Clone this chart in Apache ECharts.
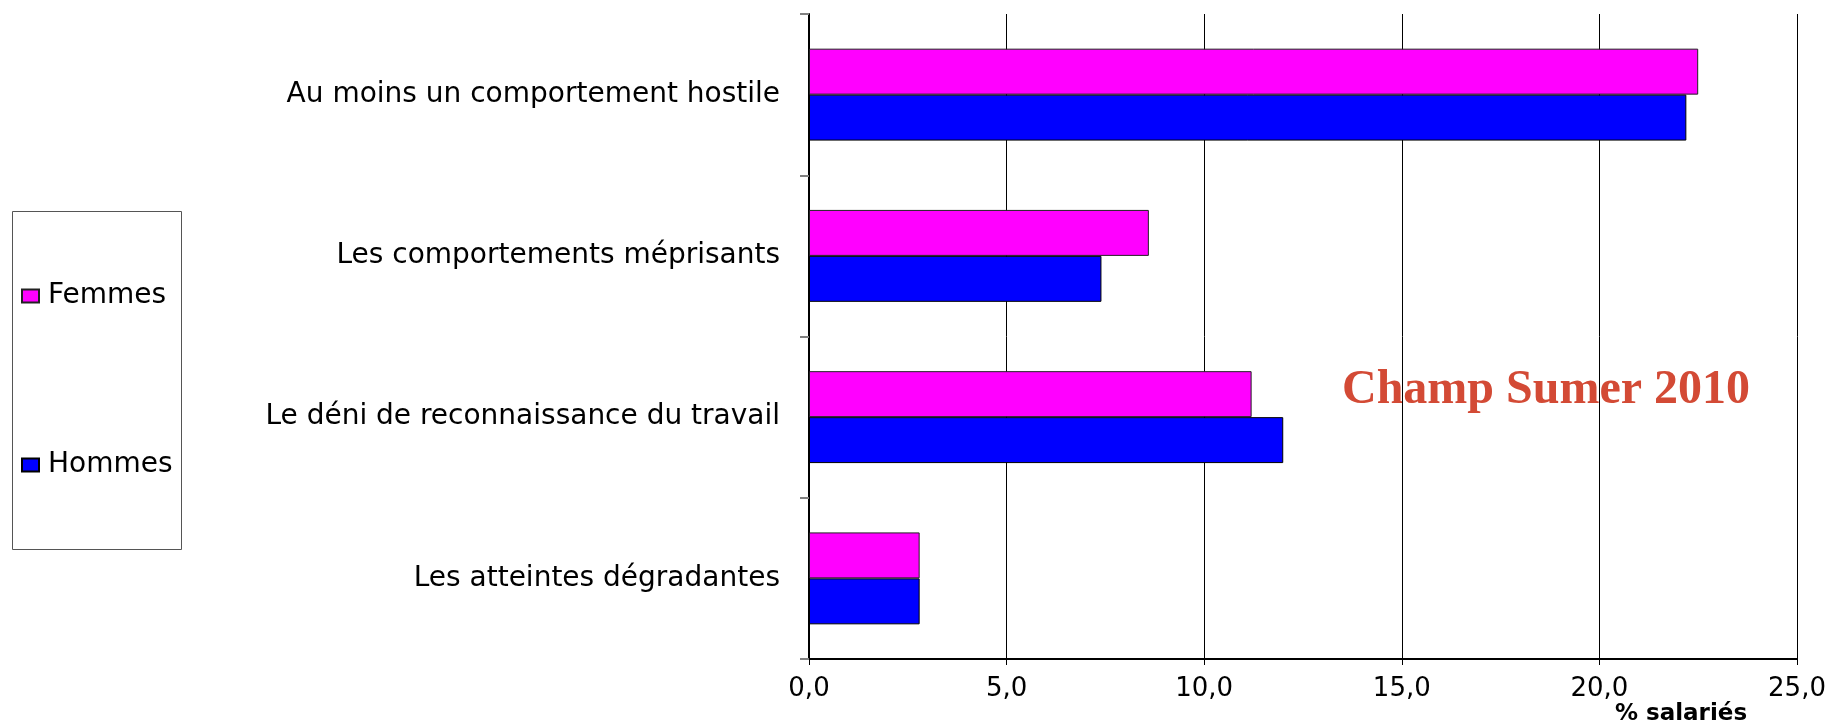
<!DOCTYPE html>
<html>
<head>
<meta charset="utf-8">
<script src="https://cdn.jsdelivr.net/npm/echarts@6/dist/echarts.min.js"></script>
<style>
  html, body { margin: 0; padding: 0; background: #fff; }
  #chart { width: 1832px; height: 722px; }
</style>
</head>
<body>
<div id="chart"></div>
<script>
// Hostile behaviour at work, share of employees (%), by sex
const categories = [
  'Au moins un comportement hostile',
  'Les comportements méprisants',
  'Le déni de reconnaissance du travail',
  'Les atteintes dégradantes'
];
const femmes = [22.5, 8.6, 11.2, 2.8];
const hommes = [22.2, 7.4, 12.0, 2.8];
const seriesNames = ['Femmes', 'Hommes'];
const xTickValues = [0, 5, 10, 15, 20, 25];
const axisTitle = '% salariés';
const scopeNote = 'Champ Sumer 2010';

const SANS = '"DejaVu Sans", sans-serif';

const chart = echarts.init(document.getElementById('chart'), null, { renderer: 'canvas' });

chart.setOption({
  backgroundColor: '#ffffff',
  animation: false,
  grid: { left: 809, right: 35, top: 14, bottom: 63, containLabel: false },
  legend: {
    orient: 'vertical',
    left: 21,
    top: 282,
    padding: 0,
    icon: 'rect',
    itemWidth: 17,
    itemHeight: 13,
    itemGap: 141,
    data: seriesNames,
    textStyle: {
      fontFamily: SANS,
      fontSize: 28,
      lineHeight: 28,
      color: '#000',
      padding: [0, 0, 0, 4]
    }
  },
  xAxis: {
    type: 'value',
    min: xTickValues[0],
    max: xTickValues[xTickValues.length - 1],
    interval: xTickValues[1] - xTickValues[0],
    axisLine: { show: true, lineStyle: { color: '#000', width: 2 } },
    axisTick: { show: true, length: 6, lineStyle: { color: '#000', width: 1 } },
    splitLine: { show: true, lineStyle: { color: '#000', width: 1 } },
    axisLabel: {
      margin: 17,
      fontFamily: SANS,
      fontSize: 26,
      color: '#000',
      formatter: v => v.toFixed(1).replace('.', ',')
    }
  },
  yAxis: {
    type: 'category',
    data: categories,
    inverse: true,
    axisLine: { show: true, lineStyle: { color: '#000', width: 2 } },
    axisTick: { show: true, length: 9, lineStyle: { color: '#808080', width: 2 } },
    axisLabel: {
      margin: 29,
      fontFamily: SANS,
      fontSize: 28,
      color: '#000'
    },
    splitLine: { show: false }
  },
  series: [
    {
      name: seriesNames[0],
      type: 'bar',
      data: femmes,
      barGap: '0%',
      barCategoryGap: '43%',
      itemStyle: { color: '#FF00FF', borderColor: '#222', borderWidth: 1 }
    },
    {
      name: seriesNames[1],
      type: 'bar',
      data: hommes,
      barGap: '0%',
      barCategoryGap: '43%',
      itemStyle: { color: '#0000FF', borderColor: '#000', borderWidth: 1 }
    }
  ],
  graphic: [
    {
      type: 'rect',
      shape: { x: 12.5, y: 211.5, width: 169, height: 338 },
      style: { fill: 'none', stroke: '#555', lineWidth: 1 },
      silent: true
    },
    {
      type: 'text',
      x: 1681,
      y: 714,
      style: {
        text: axisTitle,
        fontFamily: SANS,
        fontWeight: 'bold',
        fontSize: 23,
        fill: '#000',
        textAlign: 'center',
        textVerticalAlign: 'middle'
      }
    },
    {
      type: 'text',
      x: 1546,
      y: 391,
      style: {
        text: scopeNote,
        fontFamily: '"Liberation Serif", "Times New Roman", serif',
        fontWeight: 'bold',
        fontSize: 48,
        fill: '#D34A35',
        textAlign: 'center',
        textVerticalAlign: 'middle'
      }
    }
  ]
});
</script>
</body>
</html>
